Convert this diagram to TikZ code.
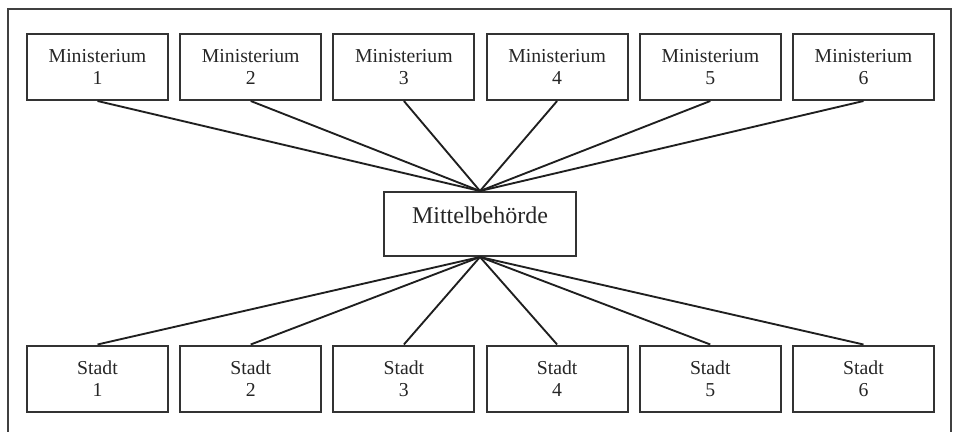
\documentclass[tikz,border=0pt]{standalone}
\usepackage{fontspec}
\setmainfont{Liberation Serif}
\begin{document}
\begin{tikzpicture}[x=0.75pt,y=-0.75pt,
  unitbox/.style={draw=black!80,line width=1.5pt,text=black!85,minimum width=105.75pt,minimum height=49.5pt,align=center,inner sep=0pt,font=\fontsize{14.8}{16.5}\selectfont},
  midbox/.style={draw=black!80,line width=1.5pt,text=black!85,minimum width=144pt,minimum height=48pt,inner sep=0pt,text height=12.3pt,text depth=13.5pt,font=\fontsize{18}{20}\selectfont},
  link/.style={draw=black!88,line width=1.4pt}]
\useasboundingbox (0,0) rectangle (957,432);
\draw[draw=black!75,line width=0.9pt] (8,432) -- (8,9) -- (951,9) -- (951,432);
\foreach \i in {1,...,6}{
  \pgfmathsetmacro{\cx}{97.5+153.2*(\i-1)}
  \node[unitbox] (m\i) at (\cx,67) {Ministerium\\\i};
  \node[unitbox] (s\i) at (\cx,378.5) {Stadt\\\i};
}
\node[midbox] (mb) at (480,224) {Mittelbehörde};
\foreach \i in {1,...,6}{
  \draw[link] (m\i.south) -- (mb.north);
  \draw[link] (mb.south) -- (s\i.north);
}
\end{tikzpicture}
\end{document}
